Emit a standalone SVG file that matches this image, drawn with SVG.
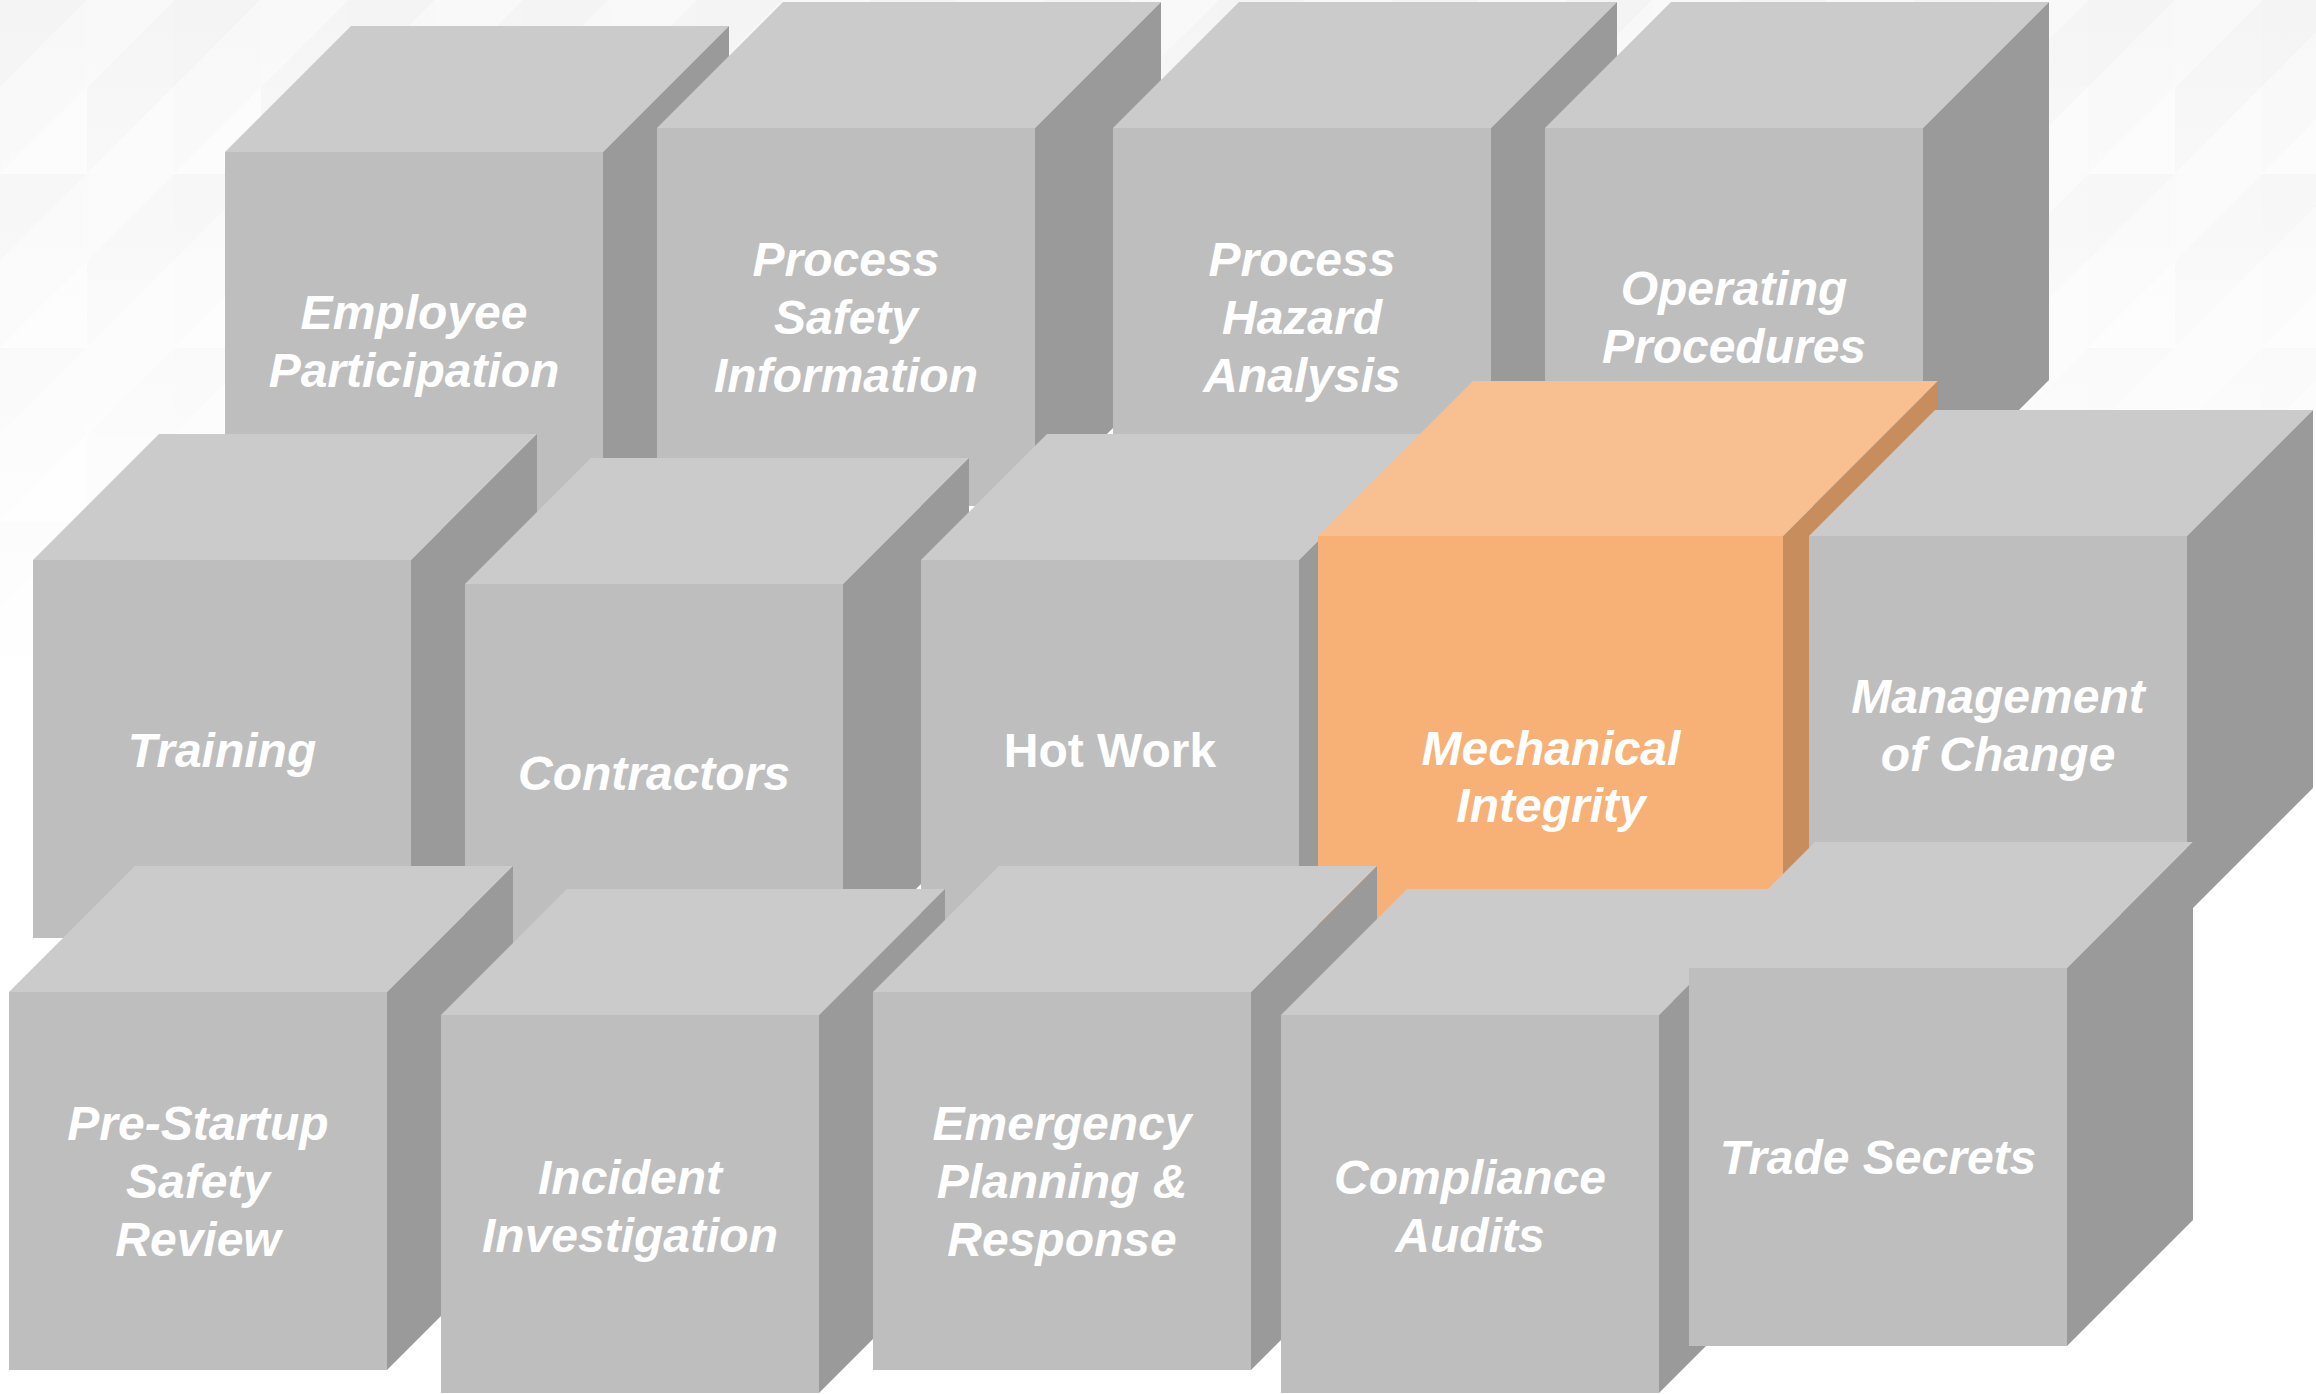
<svg xmlns="http://www.w3.org/2000/svg" width="2316" height="1394" viewBox="0 0 2316 1394">
<style>
.front{fill:#BEBEBE}
.top{fill:#CBCBCB}
.side{fill:#9A9A9A}
.hl .front{fill:#F7B075}
.hl .top{fill:#F8C091}
.hl .side{fill:#C88D5C}
.lbl{font-family:"Liberation Sans",Arial,Helvetica,sans-serif;font-weight:bold;font-style:italic;font-size:48px;fill:#FFFFFF;text-anchor:middle}
.upright{font-style:normal}
</style>
<defs>
<pattern id="mosaic" x="0" y="0" width="174" height="174" patternUnits="userSpaceOnUse">
<polygon points="0,0 87,0 0,87" fill="#F4F4F4"/>
<polygon points="87,0 87,87 0,87" fill="#F8F8F8"/>
<polygon points="87,0 174,0 87,87" fill="#F9F9F9"/>
<polygon points="174,0 174,87 87,87" fill="#F5F5F5"/>
<polygon points="0,87 87,87 0,174" fill="#F8F8F8"/>
<polygon points="87,87 87,174 0,174" fill="#FBFBFB"/>
<polygon points="87,87 174,87 87,174" fill="#F6F6F6"/>
<polygon points="174,87 174,174 87,174" fill="#FAFAFA"/>
</pattern>
<linearGradient id="fade" x1="0" y1="0" x2="0" y2="1">
<stop offset="0" stop-color="#FFFFFF" stop-opacity="0"/>
<stop offset="1" stop-color="#FFFFFF" stop-opacity="1"/>
</linearGradient>
</defs>
<g id="background">
<rect x="0" y="0" width="2316" height="1394" fill="#FFFFFF"/>
<rect x="0" y="0" width="2316" height="700" fill="url(#mosaic)"/>
<rect x="0" y="0" width="2316" height="700" fill="url(#fade)"/>
</g>
<g id="connectors"/>

<!-- back row -->
<g id="employee-participation">
<polygon class="top" points="225,152 351,26 729,26 603,152"/>
<polygon class="side" points="603,152 729,26 729,404 603,530"/>
<rect class="front" x="225" y="152" width="378" height="378"/>
<text class="lbl" x="414" y="329">Employee</text>
<text class="lbl" x="414" y="387">Participation</text>
</g>
<g id="process-safety-information">
<polygon class="top" points="657,128 783,2 1161,2 1035,128"/>
<polygon class="side" points="1035,128 1161,2 1161,380 1035,506"/>
<rect class="front" x="657" y="128" width="378" height="378"/>
<text class="lbl" x="846" y="276">Process</text>
<text class="lbl" x="846" y="334">Safety</text>
<text class="lbl" x="846" y="392">Information</text>
</g>
<g id="process-hazard-analysis">
<polygon class="top" points="1113,128 1239,2 1617,2 1491,128"/>
<polygon class="side" points="1491,128 1617,2 1617,380 1491,506"/>
<rect class="front" x="1113" y="128" width="378" height="378"/>
<text class="lbl" x="1302" y="276">Process</text>
<text class="lbl" x="1302" y="334">Hazard</text>
<text class="lbl" x="1302" y="392">Analysis</text>
</g>
<g id="operating-procedures">
<polygon class="top" points="1545,128 1671,2 2049,2 1923,128"/>
<polygon class="side" points="1923,128 2049,2 2049,380 1923,506"/>
<rect class="front" x="1545" y="128" width="378" height="378"/>
<text class="lbl" x="1734" y="305">Operating</text>
<text class="lbl" x="1734" y="363">Procedures</text>
</g>

<!-- middle row -->
<g id="training">
<polygon class="top" points="33,560 159,434 537,434 411,560"/>
<polygon class="side" points="411,560 537,434 537,812 411,938"/>
<rect class="front" x="33" y="560" width="378" height="378"/>
<text class="lbl" x="222" y="767">Training</text>
</g>
<g id="contractors">
<polygon class="top" points="465,584 591,458 969,458 843,584"/>
<polygon class="side" points="843,584 969,458 969,836 843,962"/>
<rect class="front" x="465" y="584" width="378" height="378"/>
<text class="lbl" x="654" y="790">Contractors</text>
</g>
<g id="hot-work">
<polygon class="top" points="921,560 1047,434 1425,434 1299,560"/>
<polygon class="side" points="1299,560 1425,434 1425,812 1299,938"/>
<rect class="front" x="921" y="560" width="378" height="378"/>
<text class="lbl upright" x="1110" y="767">Hot Work</text>
</g>
<g id="mechanical-integrity" class="hl">
<polygon class="top" points="1318,536 1473,381 1938,381 1783,536"/>
<polygon class="side" points="1783,536 1938,381 1938,846 1783,1001"/>
<rect class="front" x="1318" y="536" width="465" height="465"/>
<text class="lbl" x="1551" y="765">Mechanical</text>
<text class="lbl" x="1551" y="822">Integrity</text>
</g>
<g id="management-of-change">
<polygon class="top" points="1809,536 1935,410 2313,410 2187,536"/>
<polygon class="side" points="2187,536 2313,410 2313,788 2187,914"/>
<rect class="front" x="1809" y="536" width="378" height="378"/>
<text class="lbl" x="1998" y="713">Management</text>
<text class="lbl" x="1998" y="771">of Change</text>
</g>

<!-- front row -->
<g id="pre-startup-safety-review">
<polygon class="top" points="9,992 135,866 513,866 387,992"/>
<polygon class="side" points="387,992 513,866 513,1244 387,1370"/>
<rect class="front" x="9" y="992" width="378" height="378"/>
<text class="lbl" x="198" y="1140">Pre-Startup</text>
<text class="lbl" x="198" y="1198">Safety</text>
<text class="lbl" x="198" y="1256">Review</text>
</g>
<g id="incident-investigation">
<polygon class="top" points="441,1015 567,889 945,889 819,1015"/>
<polygon class="side" points="819,1015 945,889 945,1267 819,1393"/>
<rect class="front" x="441" y="1015" width="378" height="378"/>
<text class="lbl" x="630" y="1194">Incident</text>
<text class="lbl" x="630" y="1252">Investigation</text>
</g>
<g id="emergency-planning-response">
<polygon class="top" points="873,992 999,866 1377,866 1251,992"/>
<polygon class="side" points="1251,992 1377,866 1377,1244 1251,1370"/>
<rect class="front" x="873" y="992" width="378" height="378"/>
<text class="lbl" x="1062" y="1140">Emergency</text>
<text class="lbl" x="1062" y="1198">Planning &amp;</text>
<text class="lbl" x="1062" y="1256">Response</text>
</g>
<g id="compliance-audits">
<polygon class="top" points="1281,1015 1407,889 1785,889 1659,1015"/>
<polygon class="side" points="1659,1015 1785,889 1785,1267 1659,1393"/>
<rect class="front" x="1281" y="1015" width="378" height="378"/>
<text class="lbl" x="1470" y="1194">Compliance</text>
<text class="lbl" x="1470" y="1252">Audits</text>
</g>
<g id="trade-secrets">
<polygon class="top" points="1689,968 1815,842 2193,842 2067,968"/>
<polygon class="side" points="2067,968 2193,842 2193,1220 2067,1346"/>
<rect class="front" x="1689" y="968" width="378" height="378"/>
<text class="lbl" x="1878" y="1174">Trade Secrets</text>
</g>
</svg>
